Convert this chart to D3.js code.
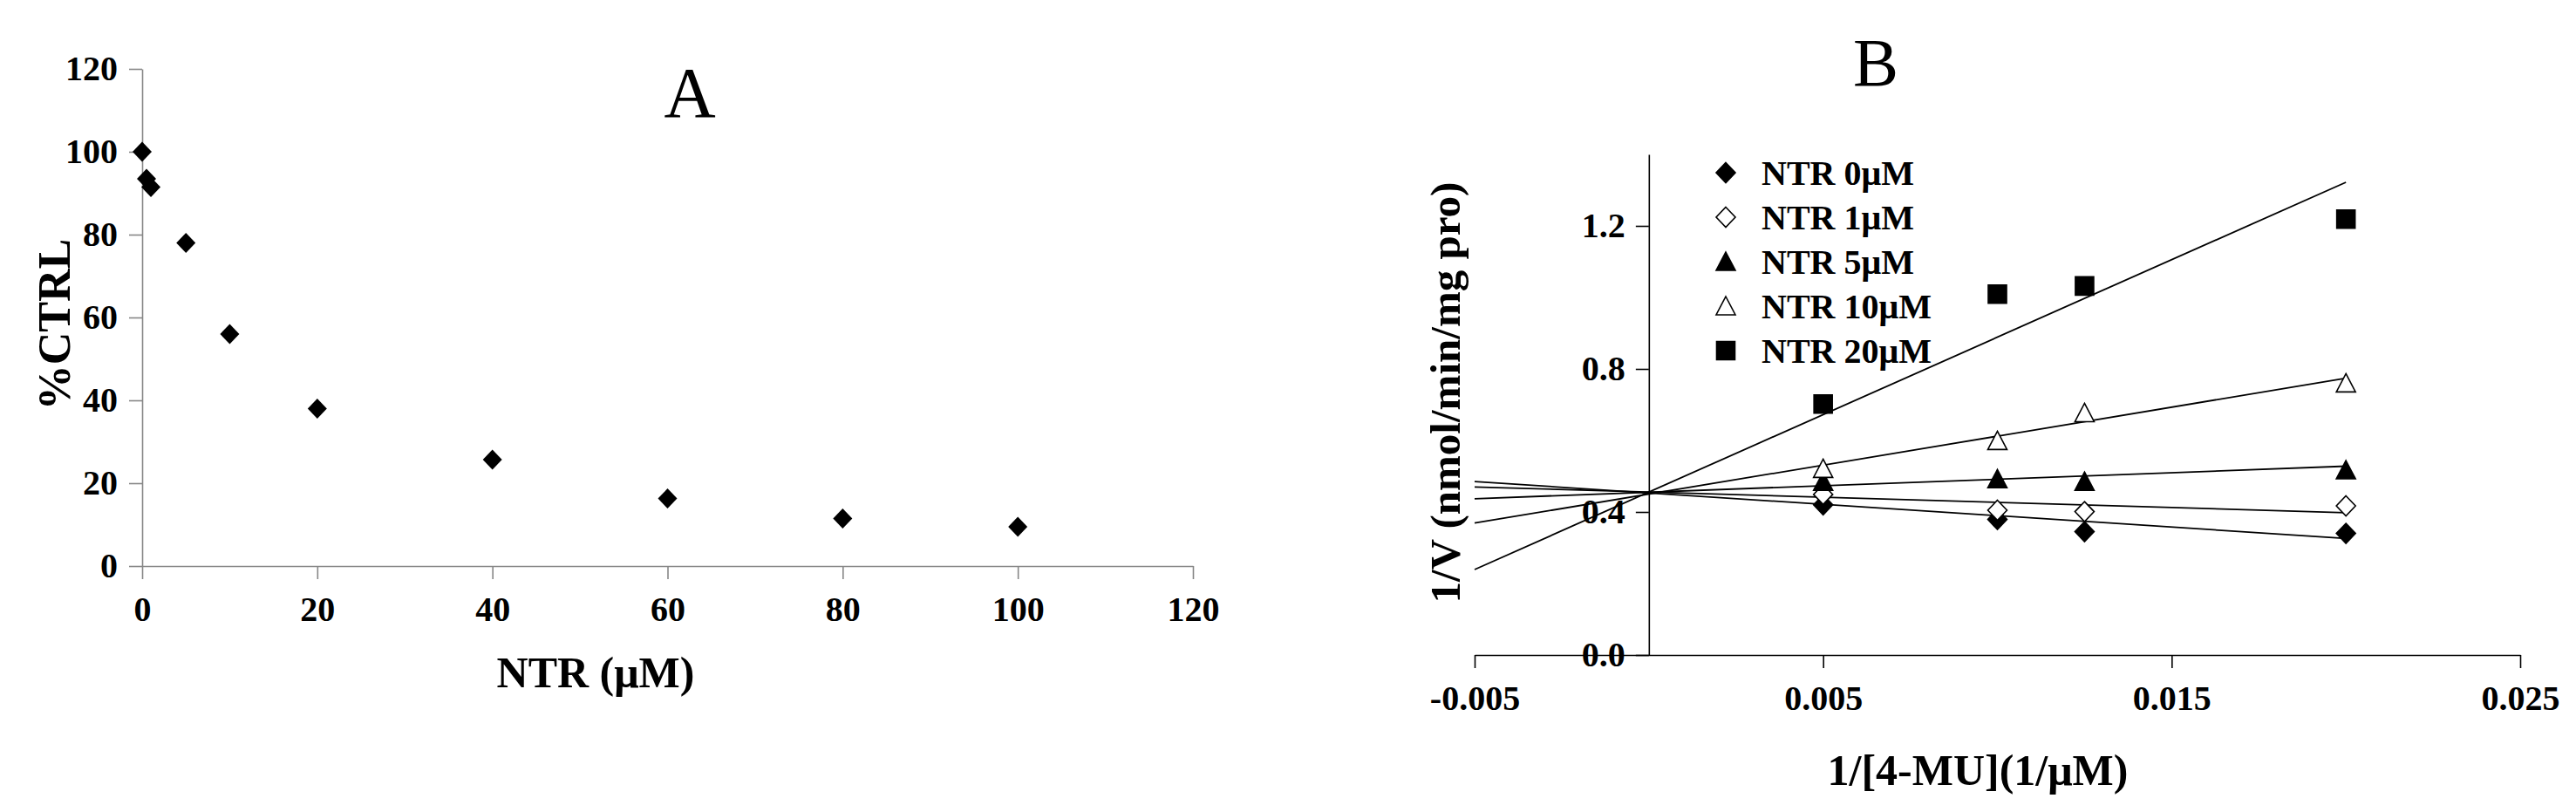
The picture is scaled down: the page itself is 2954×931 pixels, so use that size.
<!DOCTYPE html>
<html>
<head>
<meta charset="utf-8">
<script src="https://cdn.jsdelivr.net/npm/d3@7"></script>
<style>
	body { margin: 0; background: #fff; }
	svg text { font-family: 'Liberation Serif', 'Times New Roman', serif; }
</style>
</head>
<body>
<svg id="chart"></svg>
<script>
// Panel A: dose response
const ntrConc = [0, 0.5, 1, 5, 10, 20, 40, 60, 80, 100];
const pctCtrl = [100, 93.5, 91.5, 78, 56, 38, 25.7, 16.3, 11.5, 9.5];
const xTicksA = [0, 20, 40, 60, 80, 100, 120];
const yTicksA = [0, 20, 40, 60, 80, 100, 120];

// Panel B: Lineweaver-Burk
const invSubstrate = [0.005, 0.01, 0.0125, 0.02];
const seriesNames = ['NTR 0μM', 'NTR 1μM', 'NTR 5μM', 'NTR 10μM', 'NTR 20μM'];
const ntr0 = [0.42, 0.379, 0.345, 0.34];
const ntr1 = [0.449, 0.405, 0.401, 0.417];
const ntr5 = [0.485, 0.492, 0.485, 0.517];
const ntr10 = [0.521, 0.599, 0.677, 0.76];
const ntr20 = [0.702, 1.009, 1.032, 1.219];
// fitted lines, read at the two ends
const fitX = [-0.005, 0.02];
const fitStart = [0.485, 0.47, 0.437, 0.369, 0.239];
const fitEnd = [0.326, 0.398, 0.528, 0.774, 1.322];
const xTicksB = [-0.005, 0.005, 0.015, 0.025];
const yTicksB = [0, 0.4, 0.8, 1.2];

const width = 2954;
const height = 931;

const svg = d3
	.select('#chart')
	.attr('width', width)
	.attr('height', height)
	.style('background', '#fff');

// marker shapes, centred on 0,0
const shapes = {
	diamond: 'M0,-11.5L11,0L0,11.5L-11,0Z',
	triangle: 'M0,-11L11,10L-11,10Z',
	square: 'M-10.5,-10.5H10.5V10.5H-10.5Z',
};
const markerStyle = [
	{ d: shapes.diamond, fill: '#000' },
	{ d: shapes.diamond, fill: '#fff' },
	{ d: shapes.triangle, fill: '#000' },
	{ d: shapes.triangle, fill: '#fff' },
	{ d: shapes.square, fill: '#000' },
];

function styleAxis(g, color, size) {
	g.select('.domain').attr('stroke', color).attr('stroke-width', 1.6);
	g.selectAll('.tick line').attr('stroke', color).attr('stroke-width', 1.6);
	g.selectAll('.tick text')
		.attr('fill', '#000')
		.attr('font-size', size)
		.attr('font-weight', 'bold')
		.style('font-family', "'Liberation Serif', 'Times New Roman', serif");
}

// ---------- Panel A ----------
const xA = d3.scaleLinear().domain([0, 120]).range([163, 1368]);
const yA = d3.scaleLinear().domain([0, 120]).range([649, 79]);

svg
	.append('g')
	.attr('transform', `translate(0,${yA(0)})`)
	.call(d3.axisBottom(xA).tickValues(xTicksA).tickSize(15).tickSizeOuter(0).tickPadding(20).tickFormat(d3.format('d')))
	.call((g) => styleAxis(g, '#878787', 40));

svg
	.append('g')
	.attr('transform', `translate(${xA(0)},0)`)
	.call(d3.axisLeft(yA).tickValues(yTicksA).tickSize(15).tickSizeOuter(0).tickPadding(13).tickFormat(d3.format('d')))
	.call((g) => styleAxis(g, '#878787', 40));

svg
	.append('g')
	.selectAll('path')
	.data(ntrConc.map((c, i) => ({ x: c, y: pctCtrl[i] })))
	.join('path')
	.attr('d', shapes.diamond)
	.attr('transform', (d) => `translate(${xA(d.x)},${yA(d.y)})`)
	.attr('fill', '#000');

svg
	.append('text')
	.attr('x', 791)
	.attr('y', 134)
	.attr('text-anchor', 'middle')
	.attr('font-size', 82)
	.text('A');

svg
	.append('text')
	.attr('x', 683)
	.attr('y', 788)
	.attr('text-anchor', 'middle')
	.attr('font-size', 50)
	.attr('font-weight', 'bold')
	.text('NTR (μM)');

svg
	.append('text')
	.attr('transform', 'translate(80,372) rotate(-90)')
	.attr('text-anchor', 'middle')
	.attr('font-size', 52)
	.attr('font-weight', 'bold')
	.text('%CTRL');

// ---------- Panel B ----------
const xB = d3.scaleLinear().domain([-0.005, 0.025]).range([1691, 2890]);
const yB = d3.scaleLinear().domain([0, 1.4]).range([751, 177]);

svg
	.append('g')
	.attr('transform', `translate(0,${yB(0)})`)
	.call(d3.axisBottom(xB).tickValues(xTicksB).tickSize(15).tickSizeOuter(0).tickPadding(20).tickFormat((d) => d.toFixed(3)))
	.call((g) => styleAxis(g, '#000', 40));

svg
	.append('g')
	.attr('transform', `translate(${xB(0)},0)`)
	.call(d3.axisLeft(yB).tickValues(yTicksB).tickSize(15).tickSizeOuter(0).tickPadding(12).tickFormat((d) => d.toFixed(1)))
	.call((g) => styleAxis(g, '#000', 40));

// fitted lines
svg
	.append('g')
	.selectAll('line')
	.data(seriesNames.map((n, i) => ({ y0: fitStart[i], y1: fitEnd[i] })))
	.join('line')
	.attr('x1', xB(fitX[0]))
	.attr('x2', xB(fitX[1]))
	.attr('y1', (d) => yB(d.y0))
	.attr('y2', (d) => yB(d.y1))
	.attr('stroke', '#000')
	.attr('stroke-width', 1.8);

const seriesB = [ntr0, ntr1, ntr5, ntr10, ntr20];
seriesB.forEach((vals, s) => {
	svg
		.append('g')
		.selectAll('path')
		.data(vals.map((v, i) => ({ x: invSubstrate[i], y: v })))
		.join('path')
		.attr('d', markerStyle[s].d)
		.attr('transform', (d) => `translate(${xB(d.x)},${yB(d.y)})`)
		.attr('fill', markerStyle[s].fill)
		.attr('stroke', '#000')
		.attr('stroke-width', 1.6);
});

// legend
const legend = svg
	.append('g')
	.selectAll('g')
	.data(seriesNames)
	.join('g')
	.attr('transform', (d, i) => `translate(1979,${198 + i * 51})`);

legend
	.append('path')
	.attr('d', (d, i) => markerStyle[i].d)
	.attr('fill', (d, i) => markerStyle[i].fill)
	.attr('stroke', '#000')
	.attr('stroke-width', 1.6);

legend
	.append('text')
	.attr('x', 41)
	.attr('y', 14)
	.attr('font-size', 40)
	.attr('font-weight', 'bold')
	.text((d) => d);

svg
	.append('text')
	.attr('x', 2151)
	.attr('y', 98)
	.attr('text-anchor', 'middle')
	.attr('font-size', 78)
	.text('B');

svg
	.append('text')
	.attr('x', 2268)
	.attr('y', 900)
	.attr('text-anchor', 'middle')
	.attr('font-size', 50)
	.attr('font-weight', 'bold')
	.text('1/[4-MU](1/μM)');

svg
	.append('text')
	.attr('transform', 'translate(1674,450) rotate(-90)')
	.attr('text-anchor', 'middle')
	.attr('font-size', 49)
	.attr('font-weight', 'bold')
	.text('1/V (nmol/min/mg pro)');
</script>
</body>
</html>
